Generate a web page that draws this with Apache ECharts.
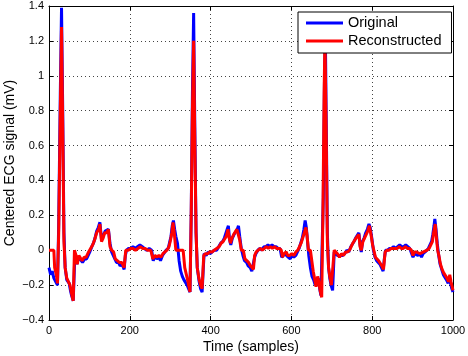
<!DOCTYPE html>
<html>
<head>
<meta charset="utf-8">
<script src="https://cdn.jsdelivr.net/npm/echarts@6/dist/echarts.min.js"></script>
<style>
  html, body { margin: 0; padding: 0; background: #fff; }
  #chart { width: 468px; height: 356px; }
</style>
</head>
<body>
<div id="chart"></div>
<script>
// ECG, [sample, mV]
var original = [
  [0,-0.10],[4,-0.14],[8,-0.12],[12,-0.16],[16,-0.15],[21,-0.20],[24,0.15],[28,0.9],[31,1.39],[34,0.8],[37,0.1],
  [40,-0.10],[44,-0.17],[50,-0.19],[53,-0.23],[56,-0.26],[60,-0.29],[64,-0.03],[69,-0.08],[73,-0.04],[77,-0.03],
  [83,-0.07],[88,-0.05],[93,-0.05],[101,-0.01],[106,0.02],[110,0.04],[114,0.07],[118,0.11],[122,0.13],[126,0.16],
  [130,0.06],[134,0.07],[139,0.11],[143,0.10],[147,0.12],[151,0.04],[155,-0.01],[159,-0.02],[163,-0.05],[167,-0.07],
  [172,-0.07],[176,-0.09],[181,-0.08],[186,-0.11],[189,-0.03],[192,0.0],[197,0.01],[203,0.01],[208,0.02],[214,0.01],
  [219,0.02],[225,0.03],[231,0.02],[236,0.01],[242,0.0],[248,0.01],[254,0.0],[258,-0.06],[262,-0.03],[267,-0.05],
  [272,-0.04],[276,-0.06],[281,-0.03],[285,-0.02],[290,0.0],[295,0.01],[299,0.05],[302,0.08],[305,0.14],[308,0.17],
  [311,0.12],[314,0.08],[318,0.04],[322,-0.06],[326,-0.12],[330,-0.15],[334,-0.17],[338,-0.18],[342,-0.20],[346,-0.21],
  [349,-0.24],[352,0.2],[355,0.9],[358,1.36],[361,0.7],[364,0.1],[367,-0.10],[371,-0.17],[375,-0.22],[379,-0.24],
  [382,-0.10],[384,-0.02],[389,-0.03],[394,-0.01],[399,-0.02],[404,-0.01],[409,0.0],[415,0.0],[420,0.02],[425,0.04],
  [430,0.05],[434,0.07],[438,0.08],[441,0.12],[444,0.14],[447,0.06],[450,0.03],[454,0.07],[458,0.09],[462,0.10],
  [466,0.12],[469,0.14],[472,0.08],[476,0.01],[480,-0.03],[484,-0.06],[489,-0.07],[493,-0.09],[498,-0.10],[502,-0.12],
  [506,-0.12],[509,-0.04],[512,-0.02],[517,0.0],[522,0.01],[527,0.0],[532,0.02],[537,0.02],[542,0.03],[547,0.02],
  [552,0.03],[557,0.02],[562,0.02],[567,0.01],[572,0.01],[576,-0.04],[580,-0.05],[584,-0.02],[588,-0.01],[592,-0.04],
  [597,-0.05],[601,-0.03],[606,-0.04],[611,-0.03],[615,-0.01],[619,0.01],[623,0.04],[627,0.07],[631,0.12],[634,0.17],
  [637,0.13],[640,0.05],[643,-0.03],[647,-0.10],[651,-0.15],[655,-0.17],[659,-0.20],[663,-0.19],[666,-0.16],[670,-0.22],
  [673,-0.26],[676,-0.25],[679,0.3],[682,1.0],[684,1.25],[686,0.8],[689,0.1],[692,-0.10],[695,-0.16],[698,-0.20],
  [702,-0.23],[704,-0.23],[706,-0.01],[710,-0.01],[714,-0.03],[718,-0.04],[722,-0.03],[727,-0.03],[732,-0.02],[737,0.0],
  [742,-0.01],[747,0.02],[751,0.03],[755,0.05],[759,0.07],[763,0.08],[767,0.10],[770,0.03],[773,-0.01],[776,0.05],
  [780,0.07],[784,0.10],[788,0.12],[792,0.15],[795,0.13],[799,0.07],[803,0.0],[807,-0.04],[811,-0.06],[815,-0.07],
  [819,-0.08],[823,-0.10],[827,-0.12],[830,-0.05],[833,0.0],[838,0.0],[843,0.01],[848,0.01],[853,0.02],[858,0.01],
  [863,0.02],[868,0.03],[873,0.02],[878,0.02],[883,0.03],[888,0.02],[893,0.01],[897,0.01],[901,-0.04],[905,-0.02],
  [909,-0.01],[913,-0.03],[918,-0.02],[922,-0.04],[926,-0.02],[931,-0.01],[935,0.0],[939,0.01],[943,0.02],[947,0.05],
  [950,0.09],[953,0.14],[955,0.18],[958,0.12],[961,0.04],[964,-0.02],[968,-0.08],[972,-0.11],[976,-0.14],[980,-0.14],
  [984,-0.17],[988,-0.19],[991,-0.15],[994,-0.19],[997,-0.22],[1000,-0.24]
];

var reconstructed = [
  [0,0],[12,0],[14,-0.10],[18,-0.14],[21,-0.19],[24,0.1],[28,0.8],[31,1.28],[34,0.7],[37,0.05],[40,-0.10],
  [44,-0.16],[48,-0.17],[52,-0.20],[56,-0.25],[60,-0.29],[63,0.0],[67,-0.03],[70,-0.08],[74,-0.03],[78,-0.04],
  [82,-0.06],[87,-0.04],[92,-0.04],[98,-0.01],[103,0.01],[108,0.03],[113,0.06],[118,0.10],[123,0.12],[126,0.15],
  [130,0.05],[134,0.07],[138,0.10],[143,0.10],[147,0.12],[151,0.02],[155,0.0],[160,-0.01],[164,-0.05],[168,-0.06],
  [174,-0.07],[180,-0.07],[186,-0.10],[190,0.0],[196,0.0],[202,0.01],[208,0.01],[214,0.0],[220,0.01],[226,0.02],
  [232,0.01],[238,0.01],[244,0.0],[252,0.0],[257,-0.05],[262,-0.03],[267,-0.04],[272,-0.03],[277,-0.04],[282,-0.02],
  [287,-0.01],[292,0.0],[297,0.02],[301,0.06],[304,0.10],[307,0.16],[310,0.10],[314,0.0],[320,0.0],[327,0.0],
  [332,0.0],[336,-0.10],[340,-0.14],[344,-0.18],[349,-0.24],[352,0.2],[355,0.8],[358,1.2],[361,0.6],[364,0.1],
  [367,-0.10],[371,-0.16],[375,-0.20],[379,-0.22],[383,-0.03],[388,-0.02],[393,-0.02],[398,-0.01],[404,-0.01],[409,0.0],
  [415,0.01],[421,0.02],[426,0.04],[431,0.05],[435,0.06],[439,0.08],[443,0.12],[446,0.07],[449,0.04],[453,0.07],
  [457,0.09],[461,0.10],[465,0.12],[469,0.13],[472,0.06],[476,0.0],[481,0.0],[485,-0.05],[489,-0.06],[494,-0.07],
  [499,-0.09],[503,-0.10],[506,-0.11],[509,-0.03],[513,-0.01],[518,0.0],[523,0.01],[528,0.0],[533,0.01],[538,0.02],
  [543,0.01],[548,0.02],[553,0.01],[558,0.02],[563,0.01],[570,0.01],[575,0.0],[578,-0.04],[582,-0.02],[587,-0.01],
  [591,-0.03],[596,-0.03],[601,-0.02],[606,-0.03],[611,-0.01],[616,0.0],[620,0.0],[624,0.04],[628,0.07],[632,0.10],
  [636,0.13],[639,0.08],[642,0.0],[647,0.0],[651,0.0],[654,-0.12],[658,-0.17],[661,-0.21],[665,-0.15],[668,-0.18],
  [671,-0.23],[675,-0.27],[678,0.2],[681,0.9],[683,1.22],[686,0.7],[689,0.05],[692,-0.10],[695,-0.15],[699,-0.20],
  [703,-0.21],[706,0.0],[710,-0.01],[714,-0.02],[719,-0.04],[724,-0.02],[729,-0.03],[734,-0.01],[739,-0.01],[744,0.0],
  [748,0.02],[752,0.04],[756,0.05],[760,0.07],[764,0.08],[767,0.09],[770,0.02],[773,0.0],[777,0.05],[781,0.07],
  [785,0.09],[789,0.11],[793,0.14],[797,0.09],[801,0.03],[804,0.0],[808,-0.04],[812,-0.05],[816,-0.06],[820,-0.07],
  [824,-0.09],[828,-0.11],[832,-0.01],[837,0.0],[842,0.0],[847,0.01],[852,0.01],[857,0.01],[862,0.01],[867,0.02],
  [872,0.01],[877,0.01],[882,0.02],[887,0.01],[892,0.01],[897,0.0],[901,-0.03],[905,-0.01],[910,-0.01],[914,-0.02],
  [918,-0.02],[922,-0.03],[927,-0.01],[931,0.0],[936,0.0],[941,0.01],[945,0.02],[949,0.05],[952,0.10],[956,0.15],
  [959,0.07],[962,0.0],[965,-0.03],[969,-0.08],[973,-0.11],[977,-0.13],[981,-0.13],[985,-0.16],[989,-0.18],[992,-0.14],
  [995,-0.18],[998,-0.21],[1000,-0.23]
];

var seriesNames = ['Original', 'Reconstructed'];
var xRange = [0, 1000, 200];   // min, max, step
var yRange = [-0.4, 1.4, 0.2];

var FONT = 'Liberation Sans, Arial, Helvetica, sans-serif';

var chart = echarts.init(document.getElementById('chart'), null, { renderer: 'canvas' });

// matlab style: box on all four sides, ticks pointing in
function boxAxis(pos, range, isMain) {
  return {
    type: 'value',
    position: pos,
    min: range[0], max: range[1], interval: range[2],
    axisLine: { show: true, onZero: false, lineStyle: { color: '#000', width: 1 } },
    axisTick: { show: true, inside: true, length: 4, lineStyle: { color: '#000' } },
    axisLabel: {
      show: isMain,
      color: '#000', fontFamily: FONT, fontSize: 11, margin: 5,
      formatter: function (v) {
        return String(Math.round(v * 10) / 10).replace('-', '\u2212');
      }
    },
    splitLine: {
      show: isMain,
      lineStyle: { color: '#444', width: 1, type: [1, 3] }
    }
  };
}

var xMain = boxAxis('bottom', xRange, true);
xMain.name = 'Time (samples)';
xMain.nameLocation = 'middle';
xMain.nameGap = 20;
xMain.nameMoveOverlap = false;
xMain.nameTextStyle = { color: '#000', fontFamily: FONT, fontSize: 14 };

var yMain = boxAxis('left', yRange, true);
yMain.name = 'Centered ECG signal (mV)';
yMain.nameLocation = 'middle';
yMain.nameGap = 32;
yMain.nameMoveOverlap = false;
yMain.nameTextStyle = { color: '#000', fontFamily: FONT, fontSize: 14 };

var option = {
  animation: false,
  backgroundColor: '#fff',
  grid: { left: 49, right: 15, top: 6, bottom: 36, containLabel: false, outerBoundsMode: 'none' },
  legend: {
    left: 298, top: 12,
    orient: 'vertical',
    data: seriesNames,
    icon: 'rect',
    itemWidth: 37, itemHeight: 3,
    itemGap: 2,
    padding: [3, 10, 4, 8],
    backgroundColor: '#fff',
    borderColor: '#000', borderWidth: 1, borderRadius: 0,
    textStyle: { color: '#000', fontFamily: FONT, fontSize: 14.5, lineHeight: 16 }
  },
  xAxis: [xMain, boxAxis('top', xRange, false)],
  yAxis: [yMain, boxAxis('right', yRange, false)],
  series: [
    {
      name: seriesNames[0], type: 'line', data: original,
      showSymbol: false, symbol: 'none',
      lineStyle: { color: '#0000ff', width: 3 },
      itemStyle: { color: '#0000ff' },
      z: 2
    },
    {
      name: seriesNames[1], type: 'line', data: reconstructed,
      showSymbol: false, symbol: 'none',
      lineStyle: { color: '#ff0000', width: 3 },
      itemStyle: { color: '#ff0000' },
      z: 3
    }
  ]
};

chart.setOption(option);
</script>
</body>
</html>
